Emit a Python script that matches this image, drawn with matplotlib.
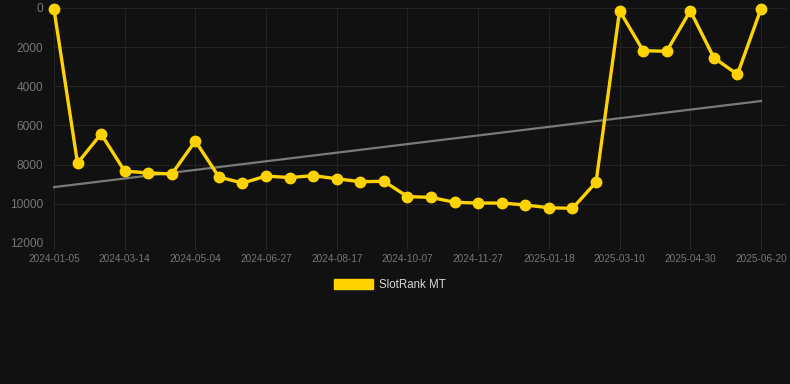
import numpy as np
import matplotlib.pyplot as plt
from matplotlib.patches import Patch

dates = ['2024-01-05', '2024-01-28', '2024-02-20', '2024-03-14', '2024-03-31',
         '2024-04-17', '2024-05-04', '2024-05-22', '2024-06-09', '2024-06-27',
         '2024-07-14', '2024-07-31', '2024-08-17', '2024-09-03', '2024-09-20',
         '2024-10-07', '2024-10-24', '2024-11-10', '2024-11-27', '2024-12-14',
         '2025-01-01', '2025-01-18', '2025-02-04', '2025-02-21', '2025-03-10',
         '2025-03-27', '2025-04-13', '2025-04-30', '2025-05-17', '2025-06-03',
         '2025-06-20']
rank = [50, 7920, 6430, 8330, 8420, 8480, 6790, 8630, 8940, 8580,
        8660, 8560, 8720, 8870, 8850, 9630, 9670, 9920, 9960, 9960,
        10060, 10200, 10230, 8900, 140, 2180, 2210, 140, 2540, 3390,
        40]

bg = '#111111'
yellow = '#FFD200'
plt.rcParams['font.family'] = ['Liberation Sans', 'DejaVu Sans']

fig = plt.figure(figsize=(7.9, 3.84), dpi=100, facecolor=bg)
ax = fig.add_axes([53 / 790, 141 / 384, (786 - 53) / 790, (243 - 8) / 384])
ax.set_facecolor(bg)

x = np.arange(len(rank))
# linear trend
k, b = np.polyfit(x, rank, 1)
ax.plot(x, k * x + b, color='#7a7a7a', lw=1.6, zorder=2)
ax.plot(x, rank, color=yellow, lw=2.4, marker='o', ms=7.5, zorder=3, clip_on=False)

ax.set_ylim(12000, 0)
ax.set_yticks(range(0, 12001, 2000))
ax.set_xlim(-0.04, 30 + 25 / 23.57)
ax.set_xticks(x[::3])
ax.set_xticklabels(dates[::3])

ax.grid(True, color='#232323', lw=0.8)
for s in ax.spines.values():
    s.set_visible(False)
ax.tick_params(axis='y', length=0, colors='#767676', labelsize=8.6, pad=7)
ax.tick_params(axis='x', length=4, color='#2a2a2a', colors='#767676', labelsize=7.2, pad=4)

leg = fig.legend(handles=[Patch(facecolor=yellow, edgecolor=yellow, label='SlotRank MT')],
                 loc='center', bbox_to_anchor=(390 / 790, 1 - 285 / 384), frameon=False,
                 handlelength=3.4, handleheight=0.95, handletextpad=0.5, fontsize=8.3)
for t in leg.get_texts():
    t.set_color('#d8d8d8')

fig.savefig('out.png', dpi=100, facecolor=bg)
